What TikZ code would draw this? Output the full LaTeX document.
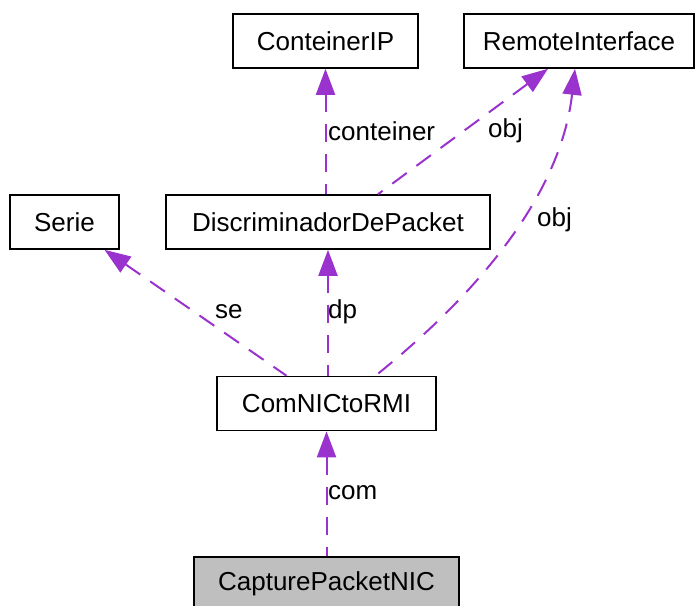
\documentclass[tikz,border=0pt]{standalone}
\usepackage{fontspec}
\setmainfont{Liberation Sans}
\usetikzlibrary{arrows.meta}
\definecolor{edgepurple}{HTML}{9A32CD}
\definecolor{boxgray}{HTML}{BFBFBF}

\begin{document}
\begin{tikzpicture}[x=1pt,y=-1pt,
    cls/.style={draw,line width=1.6pt,minimum height=54pt,inner sep=0pt,font=\fontsize{26}{31}\selectfont},
    use/.style={draw=edgepurple,line width=2pt,dash pattern=on 18pt off 12pt,
      arrows={Triangle[length=26pt,width=19pt,fill=edgepurple]-}},
    lbl/.style={anchor=west,inner sep=0pt,font=\fontsize{26}{31}\selectfont}]
                \useasboundingbox (0,0) rectangle (696,605);
                \node[cls,minimum width=185pt] (ConteinerIP) at (325.5,41) {ConteinerIP};
                \node[cls,minimum width=230pt] (RemoteInterface) at (579,41) {RemoteInterface};
                \node[cls,minimum width=109pt] (Serie) at (64.5,222) {Serie};
                \node[cls,minimum width=324pt] (Disc) at (328,222) {DiscriminadorDePacket};
                \node[cls,minimum width=219pt] (ComNIC) at (326.5,403.5) {ComNICtoRMI};
                \node[cls,minimum width=265pt,fill=boxgray] (Capture) at (326.5,584) {CapturePacketNIC};
                \draw[use] (ConteinerIP.south) -- (ConteinerIP.south |- Disc.north);
                \draw[use] ([xshift=-31pt]RemoteInterface.south) -- ([xshift=50pt]Disc.north);
                \draw[use] ([xshift=-4pt]RemoteInterface.south) .. controls (560,200) and (470,300) .. ([xshift=49pt]ComNIC.north);
                \draw[use] ([xshift=40pt]Serie.south) -- ([xshift=-40pt]ComNIC.north);
                \draw[use] (Disc.south) -- (Disc.south |- ComNIC.north);
                \draw[use] (ComNIC.south) -- (Capture.north);
                \node[lbl] (lconteiner) at (328,131) {conteiner};
                \node[lbl] (lobjdisc) at (488,131) {obj};
                \node[lbl] (lobjcom) at (537,220) {obj};
                \node[lbl] (lse) at (215,312) {se};
                \node[lbl] (ldp) at (328,312) {dp};
                \node[lbl] (lcom) at (328,493) {com};
            \end{tikzpicture}
\end{document}
